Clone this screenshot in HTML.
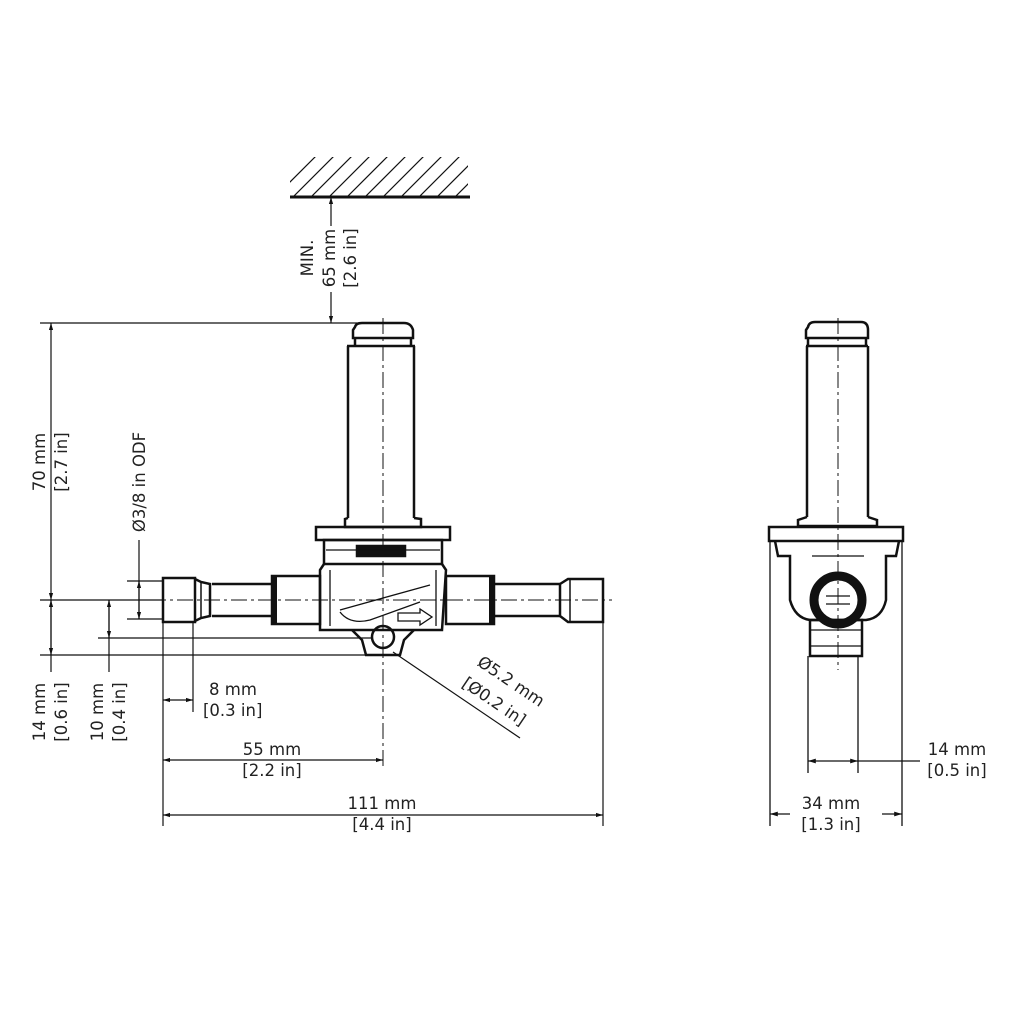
<!DOCTYPE html>
<html><head><meta charset="utf-8"><style>
html,body{margin:0;padding:0;background:#fff}
svg{display:block}
text{font-family:"DejaVu Sans","Liberation Sans",sans-serif;font-size:16.5px;fill:#222}
</style></head><body>
<svg width="1024" height="1024" viewBox="0 0 1024 1024" xmlns="http://www.w3.org/2000/svg">
<defs>
<marker id="a" viewBox="0 0 10 10" refX="10" refY="5" markerWidth="6" markerHeight="6" orient="auto-start-reverse"><path d="M0,2 L10,5 L0,8 z" fill="#111"/></marker>
<clipPath id="hc"><rect x="290" y="157" width="178" height="40"/></clipPath>
</defs>
<g stroke="#111" fill="none">
<g clip-path="url(#hc)" stroke-width="1.2">
<path d="M280,210 L340,150 M298,210 L358,150 M316,210 L376,150 M334,210 L394,150 M352,210 L412,150 M370,210 L430,150 M388,210 L448,150 M406,210 L466,150 M424,210 L484,150 M442,210 L502,150 M460,210 L520,150 M262,210 L322,150"/>
</g>
<line x1="290" y1="197" x2="470" y2="197" stroke-width="3"/>
<line x1="331" y1="197" x2="331" y2="226" stroke-width="1.2" marker-start="url(#a)"/>
<line x1="331" y1="292" x2="331" y2="323" stroke-width="1.2" marker-end="url(#a)"/>
<line x1="40" y1="323" x2="372" y2="323" stroke-width="1.2"/>

<g stroke-width="2.5">
<path d="M355,327 Q356,323 362,323 L404,323 Q411,323 413,330 L413,338 L353,338 L353,330 Z"/>
<line x1="355" y1="338" x2="355" y2="346"/><line x1="411" y1="338" x2="411" y2="346"/>
<line x1="347" y1="346" x2="415" y2="346"/>
<line x1="348" y1="346" x2="348" y2="518"/><line x1="414" y1="346" x2="414" y2="518"/>
<path d="M348,518 L345,519 L345,527 L421,527 L421,519 L414,518"/>
<rect x="316" y="527" width="134" height="13"/>
<rect x="324" y="540" width="118" height="24"/>
<rect x="357" y="546" width="48" height="10" fill="#111"/>
<path d="M324,564 L320,570 L320,630 L442,630 L446,570 L442,564"/>
<rect x="272" y="576" width="48" height="48"/>
<line x1="275" y1="576" x2="275" y2="624" stroke-width="4"/>
<line x1="212" y1="584" x2="272" y2="584"/><line x1="212" y1="616" x2="272" y2="616"/>
<rect x="163" y="578" width="32" height="44"/>
<path d="M195,579 L201,582 L210,584 L210,616 L201,618 L195,621"/>
<line x1="201" y1="582" x2="201" y2="618" stroke-width="1.5"/>
<rect x="446" y="576" width="48" height="48"/>
<line x1="491" y1="576" x2="491" y2="624" stroke-width="4"/>
<line x1="494" y1="584" x2="560" y2="584"/><line x1="494" y1="616" x2="560" y2="616"/>
<path d="M560,584 L568,579 L603,579 L603,622 L568,622 L560,616 Z"/>
<line x1="570" y1="579" x2="570" y2="622" stroke-width="1.5"/>
<path d="M352,630 L362,640 L366,655 L400,655 L404,640 L414,630"/>
<circle cx="383" cy="637" r="11"/>
</g>
<g stroke-width="1.3">
<line x1="330" y1="570" x2="330" y2="626"/>
<line x1="436" y1="570" x2="436" y2="626"/>
<path d="M340,610 L430,585"/><path d="M340,612 Q350,625 370,620 L420,602"/>
<path d="M398,613 L420,613 L420,609 L432,617 L420,625 L420,621 L398,621 Z"/>
<line x1="326" y1="550" x2="440" y2="550"/>
</g>
<g stroke-width="1" stroke-dasharray="16,4,3,4">
<line x1="383" y1="318" x2="383" y2="768"/>
<line x1="150" y1="600" x2="612" y2="600"/>
<line x1="838" y1="318" x2="838" y2="670"/>
</g>

<g stroke-width="1.2">
<line x1="40" y1="600" x2="163" y2="600"/>
<line x1="127" y1="581" x2="163" y2="581"/>
<line x1="127" y1="619" x2="163" y2="619"/>
<line x1="98" y1="638" x2="372" y2="638"/>
<line x1="40" y1="655" x2="372" y2="655"/>
<line x1="51" y1="323" x2="51" y2="600" marker-start="url(#a)" marker-end="url(#a)"/>
<line x1="51" y1="600" x2="51" y2="672"/>
<line x1="51" y1="600" x2="51" y2="655" marker-start="url(#a)" marker-end="url(#a)"/>
<line x1="109" y1="600" x2="109" y2="672"/>
<line x1="109" y1="600" x2="109" y2="638" marker-start="url(#a)" marker-end="url(#a)"/>
<line x1="139" y1="540" x2="139" y2="619"/>
<line x1="139" y1="581" x2="139" y2="619" marker-start="url(#a)" marker-end="url(#a)"/>
<line x1="163" y1="622" x2="163" y2="826"/>
<line x1="193" y1="622" x2="193" y2="712"/>
<line x1="163" y1="700" x2="193" y2="700" marker-start="url(#a)" marker-end="url(#a)"/>
<line x1="163" y1="760" x2="383" y2="760" marker-start="url(#a)" marker-end="url(#a)"/>
<line x1="603" y1="622" x2="603" y2="826"/>
<line x1="163" y1="815" x2="603" y2="815" marker-start="url(#a)" marker-end="url(#a)"/>
<line x1="393" y1="652" x2="520" y2="738"/>
</g>

<g stroke-width="2.5">
<path d="M808,327 Q809,322 815,322 L861,322 Q868,322 868,330 L868,338 L806,338 L806,330 Z"/>
<line x1="808" y1="338" x2="808" y2="346"/><line x1="866" y1="338" x2="866" y2="346"/>
<line x1="806" y1="346" x2="868" y2="346"/>
<line x1="807" y1="346" x2="807" y2="517"/><line x1="868" y1="346" x2="868" y2="517"/>
<path d="M807,517 L798,520 L798,526 L877,526 L877,520 L868,517"/>
<rect x="769" y="527" width="134" height="14"/>
<path d="M775,541 L778,556 L790,556 L790,600 Q795,618 810,620 L866,620 Q882,618 886,600 L886,556 L896,556 L899,541"/>
<rect x="810" y="620" width="52" height="36"/>
<circle cx="838" cy="600" r="24" stroke-width="9"/>
</g>
<g stroke-width="1.3">
<line x1="810" y1="630" x2="862" y2="630"/><line x1="810" y1="646" x2="862" y2="646"/>
<line x1="826" y1="596" x2="850" y2="596"/><line x1="826" y1="604" x2="850" y2="604"/>
<line x1="812" y1="556" x2="864" y2="556"/>
<line x1="770" y1="541" x2="770" y2="826"/>
<line x1="902" y1="541" x2="902" y2="826"/>
<line x1="808" y1="656" x2="808" y2="773"/>
<line x1="858" y1="656" x2="858" y2="773"/>
<line x1="808" y1="761" x2="858" y2="761" marker-start="url(#a)" marker-end="url(#a)"/>
<line x1="858" y1="761" x2="920" y2="761"/>
<line x1="770" y1="814" x2="790" y2="814" marker-start="url(#a)"/>
<line x1="882" y1="814" x2="902" y2="814" marker-end="url(#a)"/>
</g>
</g>

<text transform="translate(313,258) rotate(-90)" text-anchor="middle">MIN.</text>
<text transform="translate(335,258) rotate(-90)" text-anchor="middle">65 mm</text>
<text transform="translate(356,258) rotate(-90)" text-anchor="middle">[2.6 in]</text>
<text transform="translate(45,462) rotate(-90)" text-anchor="middle">70 mm</text>
<text transform="translate(67,462) rotate(-90)" text-anchor="middle">[2.7 in]</text>
<text transform="translate(145,482) rotate(-90)" text-anchor="middle">Ø3/8 in ODF</text>
<text transform="translate(45,712) rotate(-90)" text-anchor="middle">14 mm</text>
<text transform="translate(67,712) rotate(-90)" text-anchor="middle">[0.6 in]</text>
<text transform="translate(103,712) rotate(-90)" text-anchor="middle">10 mm</text>
<text transform="translate(125,712) rotate(-90)" text-anchor="middle">[0.4 in]</text>
<text x="209" y="695">8 mm</text>
<text x="203" y="716">[0.3 in]</text>
<text x="272" y="755" text-anchor="middle">55 mm</text>
<text x="272" y="776" text-anchor="middle">[2.2 in]</text>
<text x="382" y="809" text-anchor="middle">111 mm</text>
<text x="382" y="830" text-anchor="middle">[4.4 in]</text>
<text transform="translate(508,686) rotate(34)" text-anchor="middle">Ø5.2 mm</text>
<text transform="translate(491,706) rotate(34)" text-anchor="middle">[Ø0.2 in]</text>
<text x="957" y="755" text-anchor="middle">14 mm</text>
<text x="957" y="776" text-anchor="middle">[0.5 in]</text>
<text x="831" y="809" text-anchor="middle">34 mm</text>
<text x="831" y="830" text-anchor="middle">[1.3 in]</text>
</svg>
</body></html>
